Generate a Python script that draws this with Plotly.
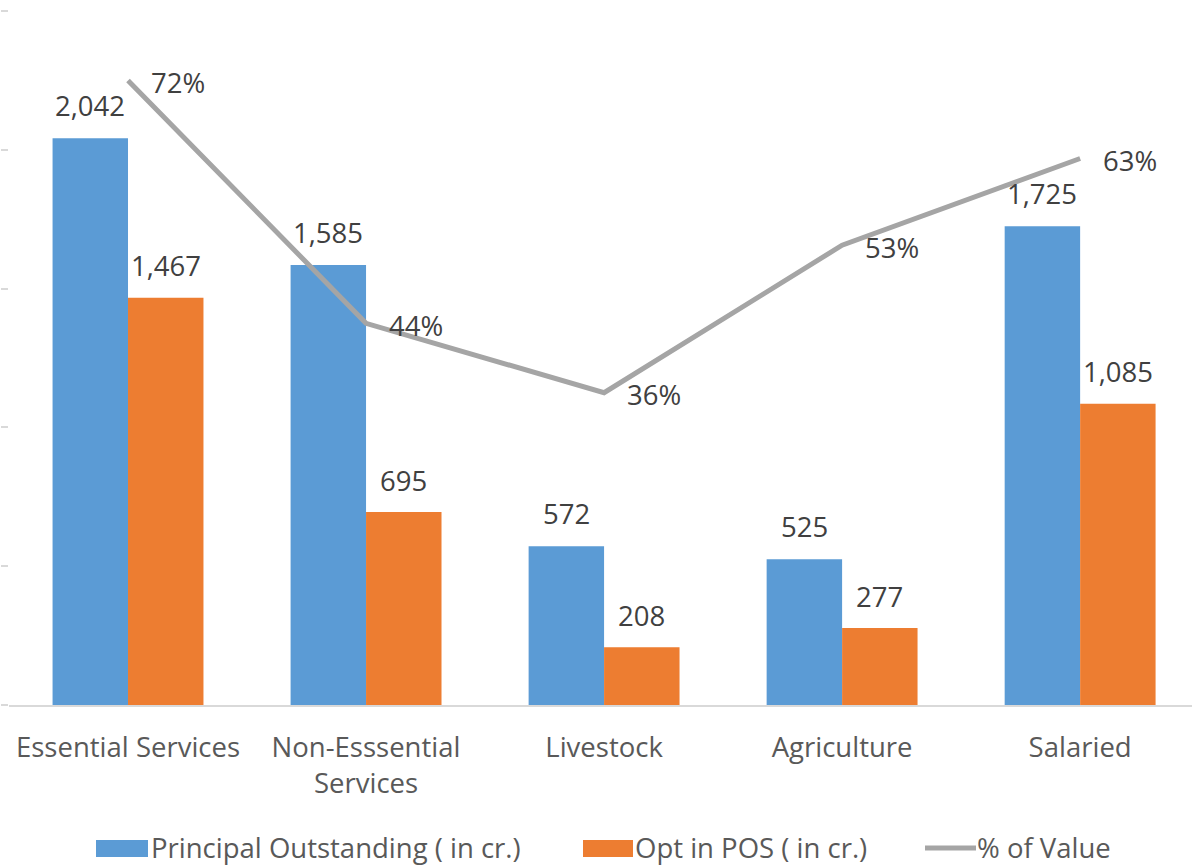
import plotly.graph_objects as go

categories = ["Essential Services", "Non-Esssential<br>Services", "Livestock", "Agriculture", "Salaried"]
principal_outstanding = [2042, 1585, 572, 525, 1725]
opt_in_pos = [1467, 695, 208, 277, 1085]
pct_of_value = [0.72, 0.44, 0.36, 0.53, 0.63]
series_names = ["Principal Outstanding ( in cr.)", "Opt in POS ( in cr.)", "% of Value"]

BLUE = "#5b9bd5"
ORANGE = "#ed7d31"
GRAY = "#a5a5a5"
LABEL = "#404040"
AXTXT = "#595959"
FONT = "Open Sans"
FS = 27.5

W, H = 1192, 865
ML, MR, MT, MB = 9, 0, 11, 160
PW = W - ML - MR
PH = H - MT - MB

fig = go.Figure()
fig.add_trace(go.Bar(x=categories, y=principal_outstanding, name=series_names[0],
                     marker=dict(color=BLUE, line=dict(width=0))))
fig.add_trace(go.Bar(x=categories, y=opt_in_pos, name=series_names[1],
                     marker=dict(color=ORANGE, line=dict(width=0))))
fig.add_trace(go.Scatter(x=categories, y=pct_of_value, name=series_names[2], mode="lines",
                         line=dict(color=GRAY, width=5), yaxis="y2"))

annotations = []
for c, v in zip(categories, principal_outstanding):
    annotations.append(dict(x=c, y=v, xref="x", yref="y", text=f"{v:,}", showarrow=False,
                            xshift=-37.7, yshift=33, yanchor="middle",
                            font=dict(family=FONT, size=FS, color=LABEL)))
for c, v in zip(categories, opt_in_pos):
    annotations.append(dict(x=c, y=v, xref="x", yref="y", text=f"{v:,}", showarrow=False,
                            xshift=37.7, yshift=32, yanchor="middle",
                            font=dict(family=FONT, size=FS, color=LABEL)))
for c, v in zip(categories, pct_of_value):
    annotations.append(dict(x=c, y=v, xref="x", yref="y2", text=f"{v:.0%}", showarrow=False,
                            xanchor="left", xshift=21, yshift=-2, yanchor="middle",
                            font=dict(family=FONT, size=FS, color=LABEL)))


def px_x(p):
    return (p - ML) / PW


def px_y(p):
    return (H - MB - p) / PH


# custom legend (swatches + text)
shapes = [
    dict(type="rect", xref="paper", yref="paper", x0=px_x(96), x1=px_x(148), y0=px_y(857), y1=px_y(840),
         fillcolor=BLUE, line=dict(width=0)),
    dict(type="rect", xref="paper", yref="paper", x0=px_x(583), x1=px_x(633), y0=px_y(857), y1=px_y(840),
         fillcolor=ORANGE, line=dict(width=0)),
    dict(type="line", xref="paper", yref="paper", x0=px_x(925), x1=px_x(976), y0=px_y(848), y1=px_y(848),
         line=dict(color=GRAY, width=5)),
]
for name, xp in zip(series_names, [150, 634, 976]):
    annotations.append(dict(x=px_x(xp), y=px_y(847), xref="paper", yref="paper", text=name,
                            showarrow=False, xanchor="left", yanchor="middle", borderpad=0,
                            font=dict(family=FONT, size=FS, color=AXTXT)))

fig.update_layout(
    width=W, height=H,
    margin=dict(l=ML, r=MR, t=MT, b=MB, pad=0),
    paper_bgcolor="white", plot_bgcolor="white",
    barmode="group", bargap=0.366, bargroupgap=0,
    showlegend=False,
    font=dict(family=FONT, size=FS, color=AXTXT),
    xaxis=dict(range=[-0.5, 4.47], showline=True, linecolor="#d9d9d9", linewidth=1.5,
               ticks="", showgrid=False, zeroline=False,
               tickfont=dict(family=FONT, size=FS, color=AXTXT), ticklabelstandoff=17),
    yaxis=dict(range=[0, 2500], dtick=500, ticks="outside", ticklen=7, tickcolor="#d9d9d9",
               tickwidth=1.5, showticklabels=False, showgrid=False, zeroline=False, showline=False),
    yaxis2=dict(range=[0, 0.8], overlaying="y", side="right", visible=False),
    annotations=annotations,
    shapes=shapes,
)

fig.write_html("out.html", config={"displayModeBar": False},
               post_script="document.body.style.margin='0';document.body.style.overflow='hidden';")
